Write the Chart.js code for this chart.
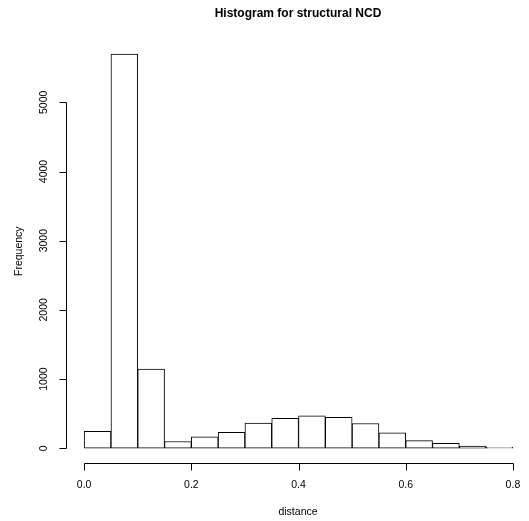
<!DOCTYPE html>
<html>
<head>
<meta charset="utf-8">
<title>Histogram for structural NCD</title>
<script src="https://cdn.jsdelivr.net/npm/chart.js@4"></script>
<style>
  html, body { margin: 0; padding: 0; background: #fff; }
  #wrap { width: 529px; height: 521px; }
</style>
</head>
<body>
<div id="wrap"><canvas id="hist"></canvas></div>
<script>
// bin centres (width 0.05) and counts
const binCenters = [0.025, 0.075, 0.125, 0.175, 0.225, 0.275, 0.325, 0.375,
                    0.425, 0.475, 0.525, 0.575, 0.625, 0.675, 0.725, 0.775];
const frequency = [243, 5696, 1145, 97, 165, 228, 362, 431,
                   470, 445, 358, 222, 110, 72, 30, 12];
const xTicks = [0, 0.2, 0.4, 0.6, 0.8];
const yTicks = [0, 1000, 2000, 3000, 4000, 5000];

const FONT = '"Liberation Sans", Arial, Helvetica, sans-serif';

// R style axes: detached lines that only span the tick range
const rAxes = {
  id: "rAxes",
  afterDraw(chart) {
    const ctx = chart.ctx;
    const x = chart.scales.x;
    const y = chart.scales.y;
    ctx.save();
    ctx.strokeStyle = "#000";
    ctx.fillStyle = "#000";
    ctx.lineWidth = 1;
    ctx.font = "10.5px " + FONT;
    ctx.textAlign = "center";
    ctx.textBaseline = "middle";

    // x axis
    const axY = Math.round(y.getPixelForValue(y.min)) - 0.5;
    const x0 = x.getPixelForValue(xTicks[0]);
    const x1 = x.getPixelForValue(xTicks[xTicks.length - 1]);
    ctx.beginPath();
    ctx.moveTo(Math.round(x0) + 0.5, axY);
    ctx.lineTo(Math.round(x1) + 0.5, axY);
    xTicks.forEach(function (v) {
      const px = Math.round(x.getPixelForValue(v)) + 0.5;
      ctx.moveTo(px, axY);
      ctx.lineTo(px, axY + 7);
    });
    ctx.stroke();
    xTicks.forEach(function (v) {
      ctx.fillText(v.toFixed(1), x.getPixelForValue(v), axY + 22);
    });
    ctx.fillText("distance", (x.left + x.right) / 2, axY + 49);

    // y axis
    const axX = Math.round(x.getPixelForValue(x.min)) - 0.5;
    const y0 = y.getPixelForValue(yTicks[0]);
    const y1 = y.getPixelForValue(yTicks[yTicks.length - 1]);
    ctx.beginPath();
    ctx.moveTo(axX, Math.round(y0) + 0.5);
    ctx.lineTo(axX, Math.round(y1) + 0.5);
    yTicks.forEach(function (v) {
      const py = Math.round(y.getPixelForValue(v)) + 0.5;
      ctx.moveTo(axX, py);
      ctx.lineTo(axX - 7, py);
    });
    ctx.stroke();
    yTicks.forEach(function (v) {
      ctx.save();
      ctx.translate(axX - 22, y.getPixelForValue(v));
      ctx.rotate(-Math.PI / 2);
      ctx.fillText(String(v), 0, 0);
      ctx.restore();
    });
    ctx.save();
    ctx.translate(axX - 47, (y.top + y.bottom) / 2);
    ctx.rotate(-Math.PI / 2);
    ctx.fillText("Frequency", 0, 0);
    ctx.restore();

    ctx.restore();
  },
};

new Chart(document.getElementById("hist"), {
  type: "bar",
  data: {
    datasets: [
      {
        data: binCenters.map(function (c, i) { return { x: c, y: frequency[i] }; }),
        backgroundColor: "#ffffff",
        borderColor: "#000000",
        borderWidth: 1,
        borderSkipped: false,
        barPercentage: 1,
        categoryPercentage: 1,
      },
    ],
  },
  options: {
    responsive: true,
    maintainAspectRatio: false,
    animation: false,
    layout: { padding: { left: 67, right: 0, top: 0, bottom: 57 } },
    scales: {
      x: { type: "linear", display: false, offset: false, min: -0.032, max: 0.83 },
      y: { type: "linear", display: false, min: -228, max: 5924 },
    },
    plugins: {
      legend: { display: false },
      tooltip: { enabled: false },
      title: {
        display: true,
        fullSize: false,
        text: "Histogram for structural NCD",
        color: "#000",
        font: { family: FONT, size: 12, weight: "bold" },
        padding: { top: 6, bottom: 18 },
      },
    },
  },
  plugins: [rAxes],
});
</script>
</body>
</html>
